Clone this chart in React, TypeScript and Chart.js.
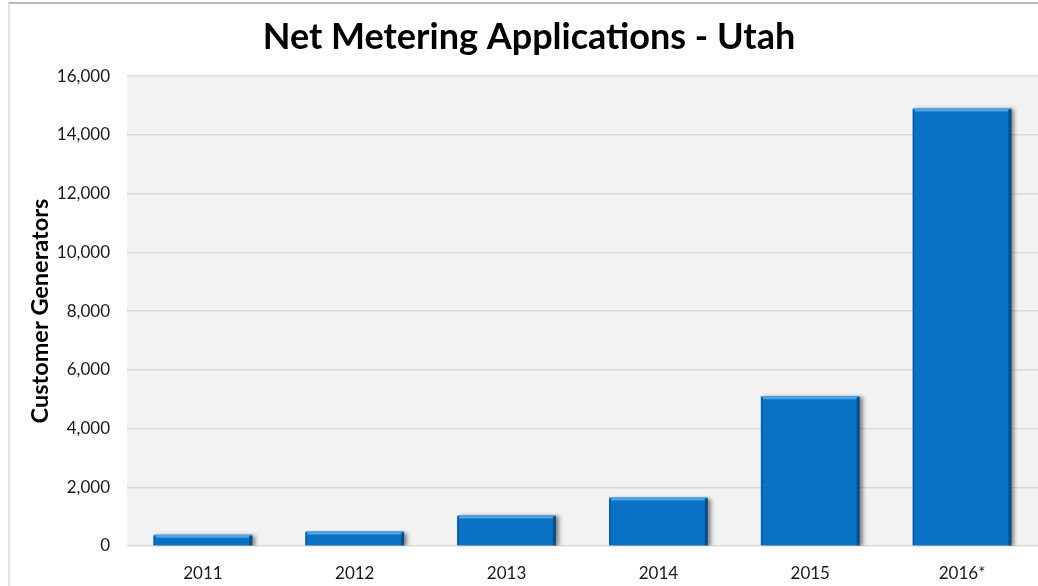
import React, { useEffect, useRef } from "react";
import { Chart, registerables } from "chart.js";

Chart.register(...registerables);

const categories = ["2011", "2012", "2013", "2014", "2015", "2016*"];
const customerGenerators = [380, 490, 1040, 1650, 5100, 14900];
const yTickValues = [0, 2000, 4000, 6000, 8000, 10000, 12000, 14000, 16000];

const plotBackground = {
  id: "plotBackground",
  beforeDraw(chart: any) {
    const { ctx, chartArea } = chart;
    ctx.save();
    ctx.fillStyle = "#f2f2f2";
    ctx.fillRect(chartArea.left, chartArea.top, chartArea.right - chartArea.left, chartArea.bottom - chartArea.top);
    ctx.restore();
  },
};

const barShadow = {
  id: "barShadow",
  beforeDatasetsDraw(chart: any) {
    const ctx = chart.ctx;
    ctx.save();
    ctx.shadowColor = "rgba(0,0,0,0.45)";
    ctx.shadowOffsetX = 3;
    ctx.shadowOffsetY = 1;
    ctx.shadowBlur = 4;
  },
  afterDatasetsDraw(chart: any) {
    const ctx = chart.ctx;
    ctx.restore();
    const meta = chart.getDatasetMeta(0);
    ctx.save();
    meta.data.forEach((bar: any) => {
      const p = bar.getProps(["x", "y", "base", "width"], true);
      const left = p.x - p.width / 2;
      const right = p.x + p.width / 2;
      const top = Math.min(p.y, p.base);
      const bottom = Math.max(p.y, p.base);
      ctx.fillStyle = "#4aa3e6";
      ctx.fillRect(left + 1, top, p.width - 2, 3);
      ctx.fillStyle = "#0b4f86";
      ctx.fillRect(right - 3, top + 1, 3, bottom - top - 1);
      ctx.fillStyle = "#0863ab";
      ctx.fillRect(left, top + 1, 2, bottom - top - 1);
    });
    ctx.restore();
  },
};

export default function App() {
  const canvasRef = useRef<HTMLCanvasElement | null>(null);

  useEffect(() => {
    document.body.style.margin = "0";
    const canvas = canvasRef.current;
    if (!canvas) return;
    const chart = new Chart(canvas, {
      type: "bar",
      data: {
        labels: categories,
        datasets: [
          {
            label: "Customer Generators",
            data: customerGenerators,
            backgroundColor: "#0a72c5",
            borderWidth: 0,
            categoryPercentage: 0.65,
            barPercentage: 1,
          },
        ],
      },
      options: {
        animation: false,
        responsive: false,
        maintainAspectRatio: false,
        layout: { padding: { left: 20, right: 0, top: 0, bottom: 0 } },
        plugins: {
          legend: { display: false },
          tooltip: { enabled: false },
          title: {
            display: true,
            text: "Net Metering Applications - Utah",
            color: "#000000",
            font: { family: "Lato", size: 36, weight: "bold" },
            padding: { top: 16, bottom: 17 },
          },
        },
        scales: {
          x: {
            afterFit(scale: any) {
              scale.height = 40;
            },
            grid: { display: false, drawTicks: false },
            border: { display: false },
            ticks: {
              color: "#1a1a1a",
              font: { family: "Lato", size: 17 },
              padding: 17,
            },
          },
          y: {
            min: 0,
            max: 16000,
            afterFit(scale: any) {
              scale.width = 107;
            },
            afterBuildTicks(scale: any) {
              scale.ticks = yTickValues.map((v) => ({ value: v }));
            },
            grid: { color: "#d9d9d9", lineWidth: 1.5, drawTicks: false },
            border: { display: false },
            ticks: {
              color: "#1a1a1a",
              font: { family: "Lato", size: 17 },
              padding: 17,
              callback: (v: any) => Number(v).toLocaleString("en-US"),
            },
            title: {
              display: true,
              text: "Customer Generators",
              color: "#000000",
              font: { family: "Lato", size: 23.5, weight: "bold" },
              padding: { top: 6, bottom: 0 },
            },
          },
        },
      },
      plugins: [plotBackground, barShadow],
    });
    return () => chart.destroy();
  }, []);

  return (
    <div style={{ position: "absolute", left: 0, top: 0, width: 1038, height: 586, background: "#ffffff", overflow: "hidden" }}>
      <div
        style={{
          position: "absolute",
          left: 8,
          top: 2,
          width: 1040,
          height: 600,
          borderTop: "2px solid #b8b8b8",
          borderLeft: "2px solid #e2e2e2",
        }}
      />
      <canvas
        ref={canvasRef}
        width={1038}
        height={586}
        style={{ position: "absolute", left: 0, top: 0, width: 1038, height: 586 }}
      />
    </div>
  );
}
